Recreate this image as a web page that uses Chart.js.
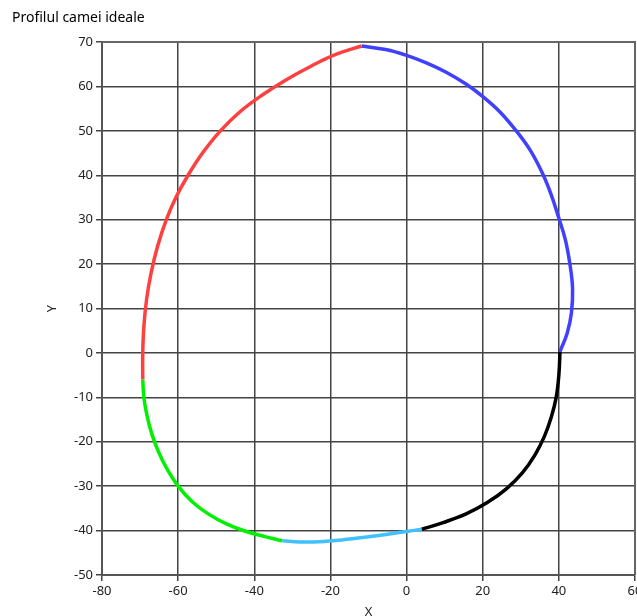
<!DOCTYPE html>
<html>
<head>
<meta charset="utf-8">
<title>Profilul camei ideale</title>
<script src="https://cdn.jsdelivr.net/npm/chart.js@4"></script>
<style>
  body { margin: 0; background: #fff; }
  canvas { display: block; }
</style>
</head>
<body>
<canvas id="camChart" width="637" height="616"></canvas>
<script>
// profile segments (x, y pairs)
const redX = [-69.3, -69.3, -69.0, -68.3, -67.1, -65.4, -63.1, -60.6, -57.4, -53.6, -48.9, -43.6, -38.0, -31.8, -25.0, -18.6, -11.8];
const redY = [-6.0, 0.0, 6.0, 12.0, 18.0, 24.0, 30.0, 35.0, 40.0, 45.0, 50.0, 54.4, 58.0, 61.4, 64.6, 67.2, 69.1];

const blueX = [-11.8, -5.5, 0.0, 5.2, 10.4, 15.5, 20.2, 24.6, 28.7, 32.5, 35.6, 38.0, 39.9, 41.7, 42.9, 43.6, 43.3, 42.2, 40.3];
const blueY = [69.1, 68.3, 67.0, 65.3, 63.2, 60.6, 57.6, 54.2, 50.1, 45.6, 40.6, 35.6, 30.6, 25.5, 20.0, 14.5, 9.0, 4.5, 0.3];

const blackX = [40.3, 40.0, 39.3, 38.0, 36.2, 33.7, 30.4, 26.2, 21.2, 15.5, 9.6, 4.0];
const blackY = [0.3, -5.0, -10.0, -14.5, -18.8, -23.0, -27.0, -30.6, -33.7, -36.3, -38.2, -39.7];

const lightX = [4.0, 0.0, -4.0, -10.0, -17.0, -23.0, -28.0, -32.6];
const lightY = [-39.7, -40.2, -40.7, -41.4, -42.1, -42.5, -42.55, -42.3];

const greenX = [-69.3, -69.0, -68.2, -67.0, -65.3, -63.0, -60.0, -56.3, -52.0, -47.3, -42.5, -37.5, -32.6];
const greenY = [-6.0, -10.0, -14.0, -18.0, -22.0, -26.0, -30.0, -33.5, -36.3, -38.5, -40.1, -41.3, -42.3];

const xTicks = [-80, -60, -40, -20, 0, 20, 40, 60];
const yTicks = [-50, -40, -30, -20, -10, 0, 10, 20, 30, 40, 50, 60, 70];

function toPoints(xs, ys) {
    return xs.map((x, i) => ({ x: x, y: ys[i] }));
}

function segment(xs, ys, color) {
    return {
        data: toPoints(xs, ys),
        showLine: true,
        borderColor: color,
        backgroundColor: color,
        borderWidth: 3.5,
        pointRadius: 0,
        tension: 0.4,
        borderCapStyle: 'butt'
    };
}

const font = { family: "'Noto Sans', 'Open Sans', sans-serif", size: 13 };

new Chart(document.getElementById('camChart'), {
    type: 'scatter',
    data: {
        datasets: [
            segment(redX, redY, 'rgb(255, 64, 64)'),
            segment(blueX, blueY, 'rgb(64, 64, 255)'),
            segment(blackX, blackY, 'rgb(0, 0, 0)'),
            segment(lightX, lightY, 'rgb(64, 192, 255)'),
            segment(greenX, greenY, 'rgb(0, 240, 0)')
        ]
    },
    options: {
        responsive: false,
        animation: false,
        layout: { padding: { left: 12, right: 2, top: 0, bottom: 0 } },
        plugins: {
            legend: { display: false },
            tooltip: { enabled: false },
            title: {
                display: true,
                text: 'Profilul camei ideale',
                align: 'start',
                color: '#000',
                font: { family: font.family, size: 14, weight: 'normal' },
                padding: { top: 9.6, bottom: 15.6 }
            }
        },
        scales: {
            x: {
                type: 'linear',
                min: -80,
                max: 60,
                afterBuildTicks: (scale) => { scale.ticks = xTicks.map(v => ({ value: v })); },
                afterFit: (scale) => {
                    scale.height = 41;
                    scale.paddingLeft = 0;
                    scale.paddingRight = 0;
                },
                ticks: { color: '#222', font: font, padding: 2, maxRotation: 0 },
                grid: { color: '#444', lineWidth: 1.5, tickLength: 6, tickColor: '#444', tickWidth: 1.5 },
                border: { color: '#555', width: 2 },
                title: { display: true, text: 'X', color: '#222', font: font, padding: { top: 0, bottom: -4 } }
            },
            y: {
                type: 'linear',
                min: -50,
                max: 70,
                afterBuildTicks: (scale) => { scale.ticks = yTicks.map(v => ({ value: v })); },
                afterFit: (scale) => {
                    scale.width = 90;
                    scale.paddingTop = 0;
                    scale.paddingBottom = 0;
                },
                ticks: { color: '#222', font: font, padding: 3 },
                grid: { color: '#444', lineWidth: 1.5, tickLength: 6, tickColor: '#444', tickWidth: 1.5 },
                border: { color: '#555', width: 2 },
                title: { display: true, text: 'Y', color: '#222', font: font, padding: { top: 32, bottom: 0 } }
            }
        }
    },
    plugins: [{
        // right and top frame of the plot area
        id: 'frame',
        afterDraw(chart) {
            const a = chart.chartArea;
            const ctx = chart.ctx;
            ctx.save();
            ctx.strokeStyle = '#666';
            ctx.lineWidth = 2;
            ctx.beginPath();
            ctx.moveTo(a.left, a.top);
            ctx.lineTo(a.right, a.top);
            ctx.lineTo(a.right, a.bottom);
            ctx.stroke();
            ctx.restore();
        }
    }]
});
</script>
</body>
</html>
